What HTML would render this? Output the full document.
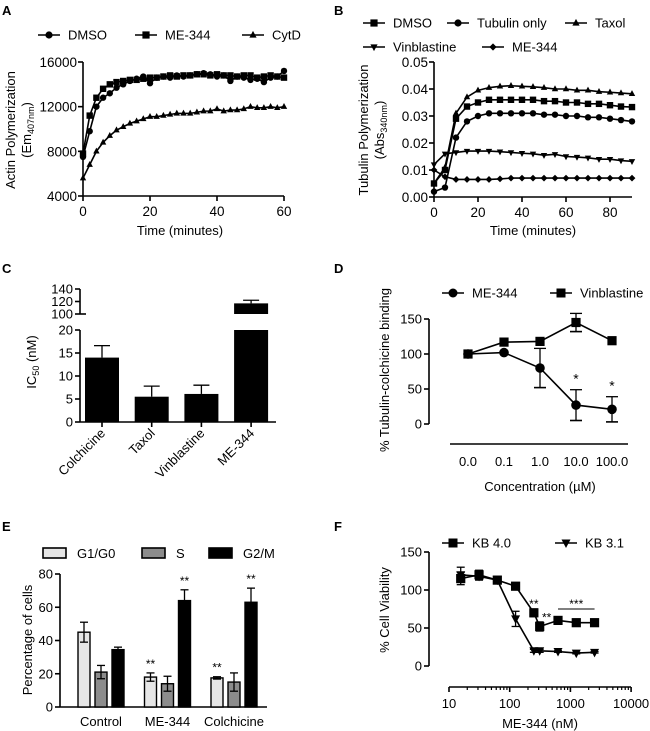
<!DOCTYPE html>
<html><head><meta charset="utf-8"><style>
body{margin:0;background:#fff}
svg{display:block;font-family:"Liberation Sans",Arial,sans-serif}
text{fill:#000}
</style></head><body>
<svg id="fig" width="650" height="731" viewBox="0 0 650 731" xmlns="http://www.w3.org/2000/svg">
<g font-weight="bold" font-size="13">
<text x="2" y="15">A</text>
<text x="334" y="15">B</text>
<text x="2" y="273">C</text>
<text x="334" y="273">D</text>
<text x="2" y="531">E</text>
<text x="334" y="531">F</text>
</g>
<g id="root"></g>
</svg>
<script>
// ---------- DATA ----------
const aTime = [0,2,4,6,8,10,12,14,16,18,20,22,24,26,28,30,32,34,36,38,40,42,44,46,48,50,52,54,56,58,60];
const aDMSO = [7500,9800,12000,12800,13200,13700,14000,14300,14500,14700,14100,14600,14700,14600,14800,14700,14800,14900,15000,14900,14700,14800,14300,14700,14600,14400,14500,14200,14600,14700,15200];
const aME344 = [7800,11200,12800,13600,14000,14200,14300,14400,14400,14500,14600,14600,14700,14800,14700,14800,14800,14900,14900,14800,14900,14800,14800,14700,14800,14800,14600,14700,14800,14700,14600];
const aCytD = [5600,6800,8000,8800,9400,9900,10200,10500,10700,10900,11100,11100,11200,11300,11400,11400,11400,11500,11600,11600,11800,11600,11700,11700,11800,12000,11900,11900,12000,11900,12000];
const aYTicks = [4000,8000,12000,16000];
const aXTicks = [0,20,40,60];
const bTime = [0,5,10,15,20,25,30,35,40,45,50,55,60,65,70,75,80,85,90];
const bTaxol = [0.005,0.011,0.031,0.037,0.0395,0.0405,0.041,0.0412,0.041,0.0408,0.0405,0.040,0.040,0.0395,0.0395,0.039,0.0388,0.0385,0.0382];
const bDMSO = [0.005,0.010,0.029,0.0335,0.035,0.036,0.036,0.036,0.036,0.036,0.0355,0.0355,0.035,0.035,0.0345,0.0345,0.034,0.0335,0.0333];
const bTubulin = [0.002,0.0035,0.022,0.028,0.030,0.031,0.031,0.031,0.031,0.031,0.0305,0.0305,0.030,0.030,0.0295,0.0295,0.029,0.0285,0.028];
const bVinbl = [0.012,0.016,0.0165,0.017,0.017,0.017,0.0168,0.0165,0.0162,0.016,0.0155,0.0158,0.015,0.0148,0.0145,0.014,0.014,0.0135,0.0132];
const bME344 = [0.010,0.0075,0.0065,0.0065,0.0065,0.0065,0.0067,0.007,0.007,0.007,0.007,0.007,0.007,0.007,0.007,0.007,0.007,0.007,0.007];
const bYTicks = [0,0.01,0.02,0.03,0.04,0.05];
const bYLabels = ["0.00","0.01","0.02","0.03","0.04","0.05"];
const bXTicks = [0,20,40,60,80];
const cCats = ["Colchicine","Taxol","Vinblastine","ME-344"];
const cVals = [14,5.5,6.1,117];
const cErr = [2.6,2.3,1.9,5];
const cLowTicks = [0,5,10,15,20];
const cHighTicks = [100,120,140];
const dCats = ["0.0","0.1","1.0","10.0","100.0"];
const dME344 = [100,102,80,27,21];
const dME344Err = [0,0,28,22,18];
const dVinbl = [100,117,118,145,119];
const dVinblErr = [0,0,0,13,0];
const dYTicks = [0,50,100,150];
const eGroups = ["Control","ME-344","Colchicine"];
const eG1 = [45,18,17.5];
const eG1Err = [6,2.5,0.7];
const eS = [21,14,15];
const eSErr = [4,4.5,5.5];
const eG2M = [34.5,64,63];
const eG2MErr = [1.5,6.5,8.5];
const eYTicks = [0,20,40,60,80];
const fConc = [15.6,31.25,62.5,125,250,312,625,1250,2500];
const fKB40 = [115,120,113,105,70,52,60,57,57];
const fKB40Err = [8,6,3,3,5,6,3,2,2];
const fKB31 = [120,118,113,62,20,20,19,17,18];
const fKB31Err = [10,5,3,10,2,2,1,1,1];
const fYTicks = [0,50,100,150];
const fXTicks = [10,100,1000,10000];

// ---------- HELPERS ----------
const NS="http://www.w3.org/2000/svg";
const root=document.getElementById('root');
function tag(el,name,inter){
  
  
  return el;
}
function mk(t,at,p){const e=document.createElementNS(NS,t);for(const k in at)e.setAttribute(k,at[k]);(p||root).appendChild(e);return e;}
function line(x1,y1,x2,y2,name,w){const l=mk('line',{x1,y1,x2,y2,stroke:'#000','stroke-width':w||1.6});tag(l,name);return l;}
function txt(x,y,s,name,o){o=o||{};const t=mk('text',Object.assign({x,y,'font-size':o.fs||12,'text-anchor':o.anchor||'start'},o.extra||{}));t.textContent=s;tag(t,name);return t;}
function marker(type,x,y,s,name){
  s=s||3.6;let e;
  if(type==='circle')e=mk('circle',{cx:x,cy:y,r:s});
  else if(type==='square')e=mk('rect',{x:x-s,y:y-s,width:2*s,height:2*s});
  else if(type==='up')e=mk('polygon',{points:`${x},${y-s-0.5} ${x-s},${y+s-1} ${x+s},${y+s-1}`});
  else if(type==='down')e=mk('polygon',{points:`${x},${y+s+0.5} ${x-s},${y-s+1} ${x+s},${y-s+1}`});
  else e=mk('polygon',{points:`${x},${y-s} ${x+s},${y} ${x},${y+s} ${x-s},${y}`});
  e.setAttribute('fill','#000');
  tag(e,name);return e;
}
function series(xs,ys,xf,yf,type,name,s){
  const pts=xs.map((x,i)=>xf(x)+','+yf(ys[i])).join(' ');
  const p=mk('polyline',{points:pts,fill:'none',stroke:'#000','stroke-width':1.6});
  tag(p,name+'-line');
  xs.forEach((x,i)=>{marker(type,xf(x),yf(ys[i]),s,name+'-point');});
}
function legend(x,y,type,label,name,s){
  line(x,y,x+22,y,name+'-swatch-line');
  marker(type,x+11,y,s,name+'-swatch-marker');
  txt(x+30,y+4.5,label,name+'-label',{fs:13});
}
function errbar(x,y0,y1,name,cap){
  cap=cap||4;
  line(x,y0,x,y1,name,1.3);line(x-cap,y1,x+cap,y1,name+'-cap',1.3);
}
function vlabel(x,y,s,name,fs){const t=txt(x,y,s,name,{fs:fs||12,anchor:'middle',extra:{transform:`rotate(-90 ${x} ${y})`}});return t;}

// ---------- PANEL A ----------
const xA=v=>83+v*(201/60), yA=v=>196-(v-4000)*(134/12000);
line(83,62,83,196,'a-y-axis');line(83,196,284,196,'a-x-axis');
aYTicks.forEach(v=>{line(78,yA(v),83,yA(v),'a-y-tick');txt(77,yA(v)+5,String(v),'a-y-tick-label',{fs:13.5,anchor:'end'});});
aXTicks.forEach(v=>{line(xA(v),196,xA(v),201,'a-x-tick');txt(xA(v),216,String(v),'a-x-tick-label',{fs:13.5,anchor:'middle'});});
series(aTime,aCytD,xA,yA,'up','a-cytd',3.2);
series(aTime,aDMSO,xA,yA,'circle','a-dmso',3.2);
series(aTime,aME344,xA,yA,'square','a-me344',3.2);
txt(180,235,'Time (minutes)','a-x-axis-title',{fs:13,anchor:'middle'});
vlabel(15,130,'Actin Polymerization','a-y-axis-title',13);
{const t=vlabel(31,130,'(Em','a-y-axis-title-sub',13);const s=mk('tspan',{'font-size':9,dy:3},t);s.textContent='407nm';tag(s,'a-y-unit-subscript');const s2=mk('tspan',{dy:-3},t);s2.textContent=')';tag(s2,'a-y-unit-close');}
legend(38,35,'circle','DMSO','a-legend-dmso');
legend(135,35,'square','ME-344','a-legend-me344');
legend(242,35,'up','CytD','a-legend-cytd');

// ---------- PANEL B ----------
const xB=v=>434+v*(176/80), yB=v=>197-v*(135/0.05);
line(434,62,434,197,'b-y-axis');line(434,197,632,197,'b-x-axis');
bYTicks.forEach((v,i)=>{line(429,yB(v),434,yB(v),'b-y-tick');txt(428,yB(v)+5,bYLabels[i],'b-y-tick-label',{fs:13.5,anchor:'end'});});
bXTicks.forEach(v=>{line(xB(v),197,xB(v),202,'b-x-tick');txt(xB(v),217,String(v),'b-x-tick-label',{fs:13.5,anchor:'middle'});});
series(bTime,bME344,xB,yB,'diamond','b-me344',3.4);
series(bTime,bVinbl,xB,yB,'down','b-vinblastine',3.2);
series(bTime,bTubulin,xB,yB,'circle','b-tubulin-only',3.2);
series(bTime,bDMSO,xB,yB,'square','b-dmso',3.2);
series(bTime,bTaxol,xB,yB,'up','b-taxol',3.2);
txt(533,235,'Time (minutes)','b-x-axis-title',{fs:13,anchor:'middle'});
vlabel(368,130,'Tubulin Polymerization','b-y-axis-title',13);
{const t=vlabel(384,130,'(Abs','b-y-axis-title-sub',13);const s=mk('tspan',{'font-size':9,dy:3},t);s.textContent='340nm';tag(s,'b-y-unit-subscript');const s2=mk('tspan',{dy:-3},t);s2.textContent=')';tag(s2,'b-y-unit-close');}
legend(363,23,'square','DMSO','b-legend-dmso');
legend(447,23,'circle','Tubulin only','b-legend-tubulin-only');
legend(565,23,'up','Taxol','b-legend-taxol');
legend(363,47,'down','Vinblastine','b-legend-vinblastine');
legend(482,47,'diamond','ME-344','b-legend-me344');

// ---------- PANEL C ----------
const yCl=v=>422-v*(92/20), yCu=v=>314-(v-100)*(25/40), xC=i=>102+i*49.7;
line(80,289,80,314,'c-y-axis-upper');line(80,330,80,422,'c-y-axis-lower');line(80,422,276,422,'c-x-axis');
cLowTicks.forEach(v=>{line(75,yCl(v),80,yCl(v),'c-y-tick');txt(73,yCl(v)+4.5,String(v),'c-y-tick-label',{fs:13,anchor:'end'});});
cHighTicks.forEach(v=>{line(75,yCu(v),80,yCu(v),'c-y-tick');txt(73,yCu(v)+4.5,String(v),'c-y-tick-label',{fs:13,anchor:'end'});});
line(80,314,86,314,'c-break-mark');
cCats.forEach((c,i)=>{
  const x=xC(i),v=cVals[i],e=cErr[i];
  line(x,422,x,427,'c-x-tick');
  if(v<=20){
    const b=mk('rect',{x:x-17,y:yCl(v),width:34,height:422-yCl(v),fill:'#000'});tag(b,'c-bar-'+c.toLowerCase());
    errbar(x,yCl(v),yCl(v+e),'c-error-bar',8);
  }else{
    const b1=mk('rect',{x:x-17,y:yCl(20),width:34,height:422-yCl(20),fill:'#000'});tag(b1,'c-bar-'+c.toLowerCase()+'-lower');
    const b2=mk('rect',{x:x-17,y:yCu(v),width:34,height:yCu(100)-yCu(v),fill:'#000'});tag(b2,'c-bar-'+c.toLowerCase()+'-upper');
    errbar(x,yCu(v),yCu(v+e),'c-error-bar',8);
  }
  txt(x+4,434,c,'c-category-label',{fs:13,anchor:'end',extra:{transform:`rotate(-45 ${x+4} 434)`}});
});
{const t=vlabel(36,362,'IC','c-y-axis-title',13);const s=mk('tspan',{'font-size':9,dy:3},t);s.textContent='50';tag(s,'c-y-subscript');const s2=mk('tspan',{dy:-3},t);s2.textContent=' (nM)';tag(s2,'c-y-unit');}

// ---------- PANEL D ----------
const xD=i=>468+i*36, yD=v=>424-v*(105/150);
line(429,319,429,424,'d-y-axis');line(450,444,628,444,'d-x-axis');
dYTicks.forEach(v=>{line(424,yD(v),429,yD(v),'d-y-tick');txt(422,yD(v)+4.5,String(v),'d-y-tick-label',{fs:13,anchor:'end'});});
dCats.forEach((c,i)=>{txt(xD(i),466,c,'d-x-tick-label',{fs:13,anchor:'middle'});});
dME344.forEach((v,i)=>{if(dME344Err[i])errbar(xD(i),yD(v-dME344Err[i]),yD(v+dME344Err[i]),'d-me344-error',6),line(xD(i)-6,yD(v-dME344Err[i]),xD(i)+6,yD(v-dME344Err[i]),'d-me344-error-cap');});
dVinbl.forEach((v,i)=>{if(dVinblErr[i])errbar(xD(i),yD(v-dVinblErr[i]),yD(v+dVinblErr[i]),'d-vinblastine-error',6),line(xD(i)-6,yD(v-dVinblErr[i]),xD(i)+6,yD(v-dVinblErr[i]),'d-vinblastine-error-cap');});
series(dCats.map((c,i)=>i),dME344,xD,yD,'circle','d-me344',4.8);
series(dCats.map((c,i)=>i),dVinbl,xD,yD,'square','d-vinblastine',4.6);
[3,4].forEach(i=>{txt(xD(i),yD(dME344[i]+dME344Err[i])-6,'*','d-significance',{fs:14,anchor:'middle'});});
txt(540,491,'Concentration (µM)','d-x-axis-title',{fs:13,anchor:'middle'});
vlabel(389,370,'% Tubulin-colchicine binding','d-y-axis-title',13);
legend(442,293,'circle','ME-344','d-legend-me344',4.5);
legend(550,293,'square','Vinblastine','d-legend-vinblastine',4.5);

// ---------- PANEL E ----------
const yE=v=>707-v*(133/80), xE=(g,k)=>101+g*66.5+(k-1)*17;
line(60,574,60,707,'e-y-axis');line(60,707,267,707,'e-x-axis');
eYTicks.forEach(v=>{line(55,yE(v),60,yE(v),'e-y-tick');txt(53,yE(v)+4.5,String(v),'e-y-tick-label',{fs:13,anchor:'end'});});
const eSeries=[[eG1,eG1Err,'#e6e6e6','g1g0'],[eS,eSErr,'#8c8c8c','s'],[eG2M,eG2MErr,'#000','g2m']];
eGroups.forEach((g,gi)=>{
  eSeries.forEach((s,k)=>{
    const x=xE(gi,k),v=s[0][gi],e=s[1][gi];
    const b=mk('rect',{x:x-6,y:yE(v),width:12,height:707-yE(v),fill:s[2],stroke:'#000','stroke-width':1.4});tag(b,'e-bar-'+s[3]);
    line(x,yE(v-e),x,yE(v+e),'e-error-bar',1.3);line(x-4,yE(v+e),x+4,yE(v+e),'e-error-cap',1.3);line(x-4,yE(v-e),x+4,yE(v-e),'e-error-cap',1.3);
  });
  txt(xE(gi,1),726,g,'e-category-label',{fs:13,anchor:'middle'});
});
[[1,0],[1,2],[2,0],[2,2]].forEach(p=>{const s=eSeries[p[1]];const v=s[0][p[0]]+s[1][p[0]];txt(xE(p[0],p[1]),yE(v)-5,'**','e-significance',{fs:12,anchor:'middle'});});
vlabel(32,640,'Percentage of cells','e-y-axis-title',13);
[[43,'#e6e6e6','G1/G0','g1g0'],[142,'#8c8c8c','S','s'],[209,'#000','G2/M','g2m']].forEach(l=>{
  const r=mk('rect',{x:l[0],y:548,width:23,height:10,fill:l[1],stroke:'#000','stroke-width':1.6});tag(r,'e-legend-swatch-'+l[3]);
  txt(l[0]+34,558,l[2],'e-legend-label-'+l[3],{fs:13});
});

// ---------- PANEL F ----------
const xF=v=>449+Math.log10(v/10)*60.7, yF=v=>666-v*(114/150);
line(429,552,429,666,'f-y-axis');line(449,687,631,687,'f-x-axis');
fYTicks.forEach(v=>{line(424,yF(v),429,yF(v),'f-y-tick');txt(422,yF(v)+4.5,String(v),'f-y-tick-label',{fs:13,anchor:'end'});});
fXTicks.forEach(v=>{line(xF(v),687,xF(v),692,'f-x-tick');txt(xF(v),708,String(v),'f-x-tick-label',{fs:13,anchor:'middle'});});
[10,100,1000].forEach(d=>{for(let m=2;m<10;m++){line(xF(d*m),687,xF(d*m),690,'f-x-minor-tick',1.2);}});
fKB40.forEach((v,i)=>{errbar(xF(fConc[i]),yF(v-fKB40Err[i]),yF(v+fKB40Err[i]),'f-kb40-error',4);line(xF(fConc[i])-4,yF(v-fKB40Err[i]),xF(fConc[i])+4,yF(v-fKB40Err[i]),'f-kb40-error-cap',1.3);});
fKB31.forEach((v,i)=>{errbar(xF(fConc[i]),yF(v-fKB31Err[i]),yF(v+fKB31Err[i]),'f-kb31-error',4);line(xF(fConc[i])-4,yF(v-fKB31Err[i]),xF(fConc[i])+4,yF(v-fKB31Err[i]),'f-kb31-error-cap',1.3);});
series(fConc,fKB31,xF,yF,'down','f-kb31',4.5);
series(fConc,fKB40,xF,yF,'square','f-kb40',4.6);
txt(xF(fConc[4]),yF(fKB40[4])-5,'**','f-significance',{fs:12,anchor:'middle'});
txt(xF(fConc[5])+7,yF(fKB40[5])-5,'**','f-significance',{fs:12,anchor:'middle'});
line(xF(fConc[6]),609,xF(fConc[8]),609,'f-significance-bracket',1);
txt((xF(fConc[6])+xF(fConc[8]))/2,608,'***','f-significance',{fs:12,anchor:'middle'});
txt(540,728,'ME-344 (nM)','f-x-axis-title',{fs:13,anchor:'middle'});
vlabel(389,610,'%  Cell Viability','f-y-axis-title',13);
legend(442,543,'square','KB 4.0','f-legend-kb40',4.5);
legend(555,543,'down','KB 3.1','f-legend-kb31',4.5);
</script>
</body></html>
